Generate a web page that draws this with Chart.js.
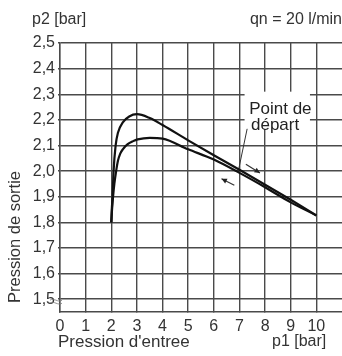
<!DOCTYPE html>
<html>
<head>
<meta charset="utf-8">
<script src="https://cdn.jsdelivr.net/npm/chart.js@4"></script>
<style>
  html, body { margin: 0; padding: 0; background: #fff; }
  #wrap { width: 342px; height: 356px; }
</style>
</head>
<body>
<div id="wrap"><canvas id="chart"></canvas></div>
<script>
// courbes
const xMontee = [2, 2.02, 2.05, 2.09, 2.17, 2.26, 2.45, 2.7, 3.0, 3.5, 4, 5, 6, 7, 8, 9, 10];
const yMontee = [1.80, 1.85, 1.90, 2.00, 2.10, 2.15, 2.19, 2.213, 2.222, 2.207, 2.18, 2.12, 2.062, 2.005, 1.947, 1.888, 1.827];
const xDescente = [2, 2.03, 2.07, 2.12, 2.19, 2.26, 2.35, 2.45, 2.64, 2.85, 3.03, 3.5, 4, 5, 6, 7, 8, 9, 10];
const yDescente = [1.80, 1.85, 1.90, 1.95, 2.00, 2.04, 2.068, 2.085, 2.105, 2.117, 2.124, 2.13, 2.127, 2.085, 2.045, 1.993, 1.937, 1.878, 1.827];
const xTicks = [0, 1, 2, 3, 4, 5, 6, 7, 8, 9, 10];
const yTicks = [1.5, 1.6, 1.7, 1.8, 1.9, 2.0, 2.1, 2.2, 2.3, 2.4, 2.5];

const textFont = "'Liberation Sans', Arial, sans-serif";
const gridColor = '#4a4a4a';

const toPoints = (xs, ys) => xs.map((x, i) => ({ x: x, y: ys[i] }));

function arrow(ctx, x1, y1, x2, y2) {
    const a = Math.atan2(y2 - y1, x2 - x1);
    ctx.beginPath();
    ctx.moveTo(x1, y1);
    ctx.lineTo(x2, y2);
    ctx.stroke();
    ctx.beginPath();
    ctx.moveTo(x2, y2);
    ctx.lineTo(x2 - 6 * Math.cos(a - 0.45), y2 - 6 * Math.sin(a - 0.45));
    ctx.lineTo(x2 - 6 * Math.cos(a + 0.45), y2 - 6 * Math.sin(a + 0.45));
    ctx.closePath();
    ctx.fill();
}

const annotations = {
    id: 'annotations',
    afterDatasetsDraw(chart) {
        const ctx = chart.ctx;
        const xs = chart.scales.x, ys = chart.scales.y;
        const px = v => xs.getPixelForValue(v);
        const py = v => ys.getPixelForValue(v);
        ctx.save();

        // cadre blanc sous "Point de départ"
        ctx.fillStyle = '#fff';
        ctx.fillRect(px(7.2), py(2.31), px(9.75) - px(7.2), py(2.165) - py(2.31));

        ctx.fillStyle = '#222';
        ctx.font = '17px ' + textFont;
        ctx.textBaseline = 'middle';
        ctx.textAlign = 'left';
        ctx.fillText('Point de', px(7.38), py(2.243));
        ctx.fillText('départ', px(7.45), py(2.18));

        ctx.strokeStyle = '#333';
        ctx.lineWidth = 1;
        ctx.beginPath();
        ctx.moveTo(px(7.3), py(2.165));
        ctx.lineTo(px(6.98), py(2.012));
        ctx.stroke();

        ctx.fillStyle = '#222';
        ctx.lineWidth = 1.2;
        arrow(ctx, px(7.25), py(2.027), px(7.8), py(1.993));
        arrow(ctx, px(6.8), py(1.945), px(6.3), py(1.97));

        // symbole de coupure de l'axe
        ctx.strokeStyle = '#777';
        ctx.lineWidth = 0.8;
        for (let k = 0; k < 2; k++) {
            ctx.beginPath();
            const y0 = py(1.5) + 1 + k * 3;
            ctx.moveTo(px(0) - 10, y0);
            ctx.bezierCurveTo(px(0) - 6, y0 - 3, px(0) - 2, y0 + 3, px(0) + 2, y0);
            ctx.stroke();
        }

        // titres
        ctx.fillStyle = '#333';
        ctx.font = '16px ' + textFont;
        ctx.textAlign = 'left';
        ctx.fillText('p2 [bar]', 32, 20);
        ctx.textAlign = 'right';
        ctx.fillText('qn = 20 l/min', 342, 20);
        ctx.textAlign = 'left';
        ctx.fillText('p1 [bar]', 272, 342);

        ctx.font = '17px ' + textFont;
        ctx.fillText("Pression d'entree", 58, 342);
        ctx.font = '16.5px ' + textFont;
        ctx.translate(15, 237);
        ctx.rotate(-Math.PI / 2);
        ctx.textAlign = 'center';
        ctx.fillText('Pression de sortie', 0, 0);
        ctx.restore();
    }
};

new Chart(document.getElementById('chart'), {
    type: 'line',
    data: {
        datasets: [
            {
                label: 'montée',
                data: toPoints(xMontee, yMontee),
                borderColor: '#111',
                borderWidth: 2.2,
                pointRadius: 0,
                cubicInterpolationMode: 'monotone',
                fill: false
            },
            {
                label: 'descente',
                data: toPoints(xDescente, yDescente),
                borderColor: '#111',
                borderWidth: 2.2,
                pointRadius: 0,
                cubicInterpolationMode: 'monotone',
                fill: false
            }
        ]
    },
    options: {
        responsive: true,
        maintainAspectRatio: false,
        animation: false,
        layout: { padding: { top: 43, right: 0, left: 0, bottom: 0 } },
        plugins: {
            legend: { display: false },
            tooltip: { enabled: false }
        },
        scales: {
            x: {
                type: 'linear',
                min: 0,
                max: 11,
                afterBuildTicks: s => { s.ticks = xTicks.map(v => ({ value: v })); },
                afterFit: s => { s.height = 44; },
                grid: { color: gridColor, lineWidth: 1.4, tickLength: 0 },
                border: { color: gridColor, width: 1.4 },
                ticks: {
                    color: '#333',
                    padding: 5,
                    maxRotation: 0,
                    font: { family: textFont, size: 16 },
                    callback: v => String(v)
                }
            },
            y: {
                min: 1.45,
                max: 2.5,
                afterBuildTicks: s => { s.ticks = yTicks.map(v => ({ value: v })); },
                afterFit: s => { s.width = 60; },
                grid: { color: gridColor, lineWidth: 1.4, tickLength: 2 },
                border: { color: gridColor, width: 1.4 },
                ticks: {
                    color: '#333',
                    padding: 3,
                    font: { family: textFont, size: 16 },
                    callback: v => v.toFixed(1).replace('.', ',')
                }
            }
        }
    },
    plugins: [annotations]
});
</script>
</body>
</html>
